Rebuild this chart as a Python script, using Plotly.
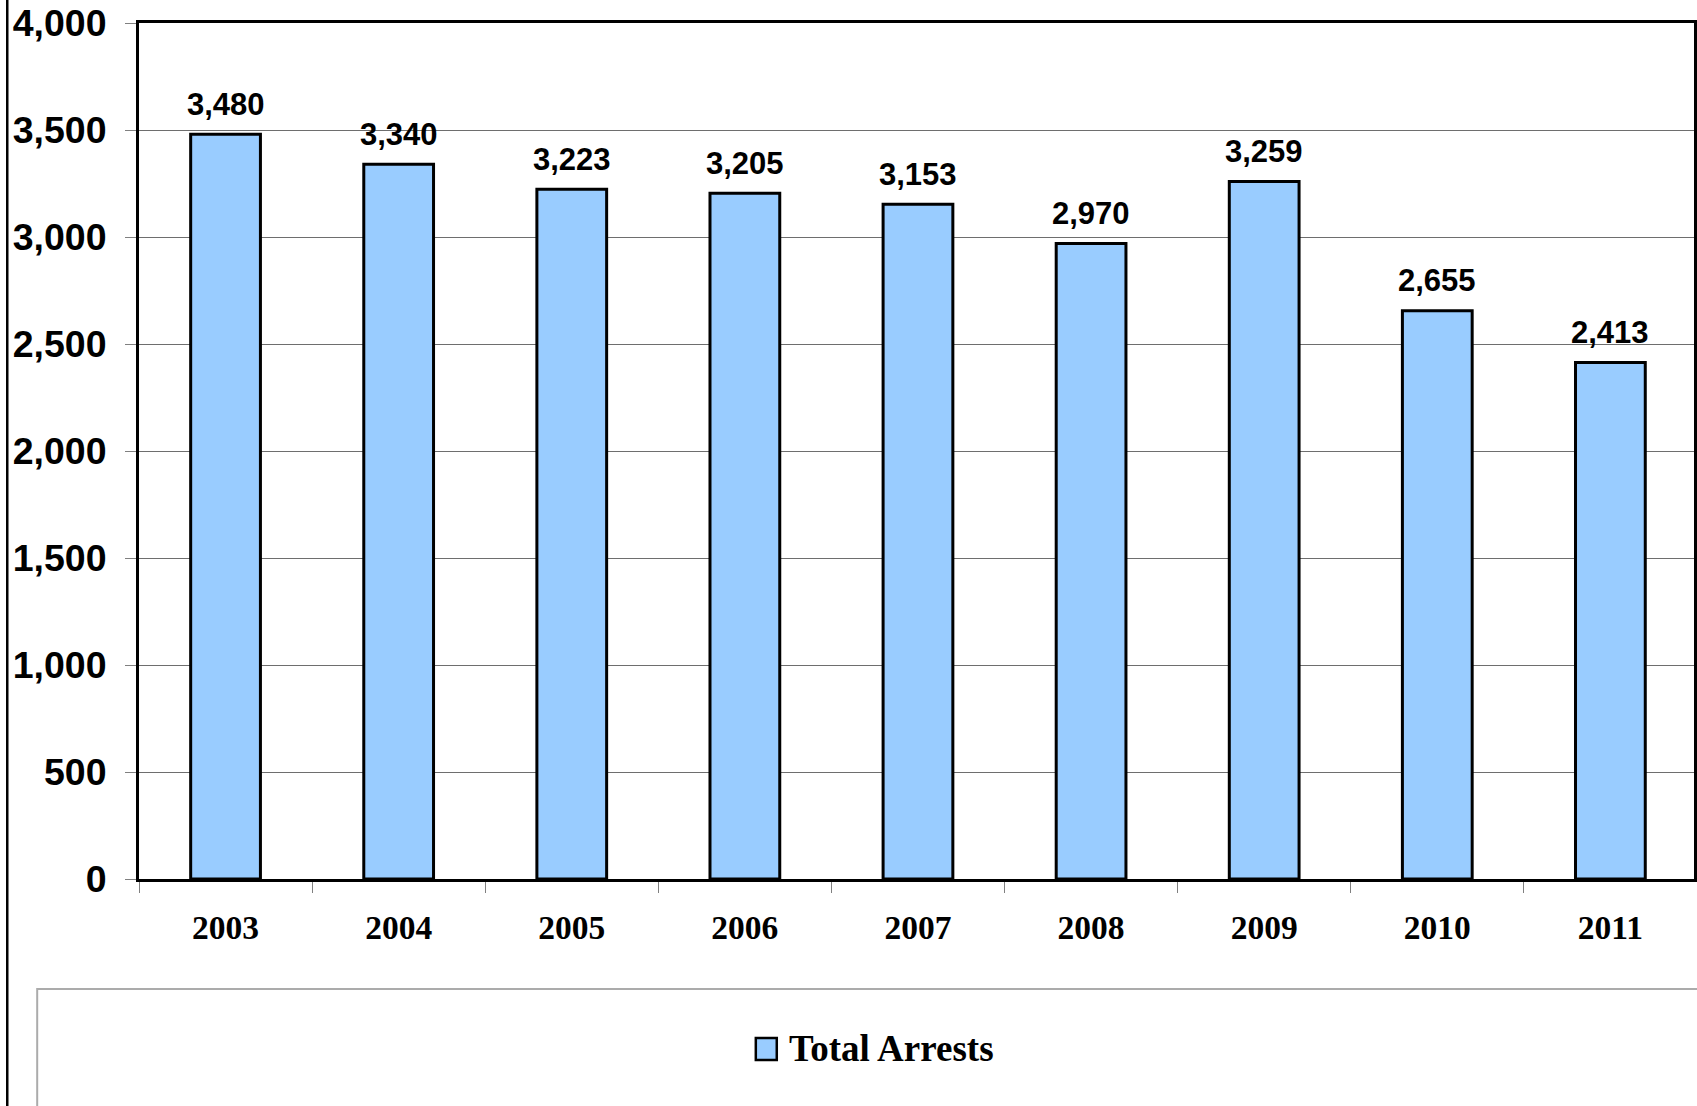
import plotly.graph_objects as go

# Annual totals
years = ["2003", "2004", "2005", "2006", "2007", "2008", "2009", "2010", "2011"]
arrests = [3480, 3340, 3223, 3205, 3153, 2970, 3259, 2655, 2413]
series_name = "Total Arrests"
y_ticks = [0, 500, 1000, 1500, 2000, 2500, 3000, 3500, 4000]

W, H = 1697, 1106
M_L, M_R, M_T, M_B = 139, 0, 23, 227
PW = W - M_L - M_R
PH = H - M_T - M_B

BAR_FILL = "#99CCFF"
SANS = "Liberation Sans, Arial, sans-serif"
SERIF = "Liberation Serif, Times New Roman, serif"


def px_x(x):
    """Page pixel x -> paper coordinate."""
    return (x - M_L) / PW


def px_y(y):
    """Page pixel y -> paper coordinate."""
    return (H - M_B - y) / PH


fig = go.Figure()
fig.add_trace(go.Bar(
    x=years,
    y=arrests,
    name=series_name,
    width=0.403,
    marker=dict(color=BAR_FILL, line=dict(color="black", width=3)),
    showlegend=False,
    hoverinfo="x+y",
))

# value labels above each bar (category index positions)
for i, v in enumerate(arrests):
    fig.add_annotation(
        x=i, y=v, xref="x", yref="y",
        text=f"{v:,}", showarrow=False,
        yanchor="middle", yshift=30,
        font=dict(family=SANS, size=31, color="black", weight="bold"),
    )

shapes = [
    # outer chart frame (left edge)
    dict(type="line", xref="paper", yref="paper",
         x0=px_x(7), x1=px_x(7), y0=px_y(-10), y1=px_y(H + 10),
         line=dict(color="black", width=2.5), layer="above"),
    # legend frame
    dict(type="rect", xref="paper", yref="paper",
         x0=px_x(37), x1=px_x(W + 20), y0=px_y(989), y1=px_y(H + 20),
         line=dict(color="#ababab", width=2), fillcolor="rgba(0,0,0,0)"),
    # legend swatch
    dict(type="rect", xref="paper", yref="paper",
         x0=px_x(757), x1=px_x(778), y0=px_y(1060), y1=px_y(1038),
         line=dict(color="black", width=2.5), fillcolor=BAR_FILL),
]

fig.add_annotation(
    x=px_x(788), y=px_y(1048), xref="paper", yref="paper",
    xanchor="left", yanchor="middle", showarrow=False,
    text=series_name,
    font=dict(family=SERIF, size=37, color="black", weight="bold"),
)

fig.update_layout(
    width=W, height=H,
    margin=dict(l=M_L, r=M_R, t=M_T, b=M_B, pad=0),
    paper_bgcolor="white",
    plot_bgcolor="white",
    shapes=shapes,
    bargap=0.6,
    showlegend=False,
    xaxis=dict(
        type="category",
        range=[-0.5, 8.483],
        tickson="boundaries",
        ticks="outside", ticklen=11, tickwidth=1, tickcolor="#808080",
        ticklabelstandoff=17,
        showline=True, linecolor="black", linewidth=3, mirror=True,
        showgrid=False,
        tickfont=dict(family=SERIF, size=33.5, color="black", weight="bold"),
    ),
    yaxis=dict(
        range=[0, 4000],
        tickvals=y_ticks,
        ticktext=[f"{t:,}" for t in y_ticks],
        ticks="outside", ticklen=11, tickwidth=1, tickcolor="#808080",
        ticklabelstandoff=11,
        showline=True, linecolor="black", linewidth=3, mirror=True,
        showgrid=True, gridcolor="#6e6e6e", gridwidth=1,
        zeroline=False,
        tickfont=dict(family=SANS, size=37.5, color="black", weight="bold"),
    ),
)

fig.write_html("out.html")
